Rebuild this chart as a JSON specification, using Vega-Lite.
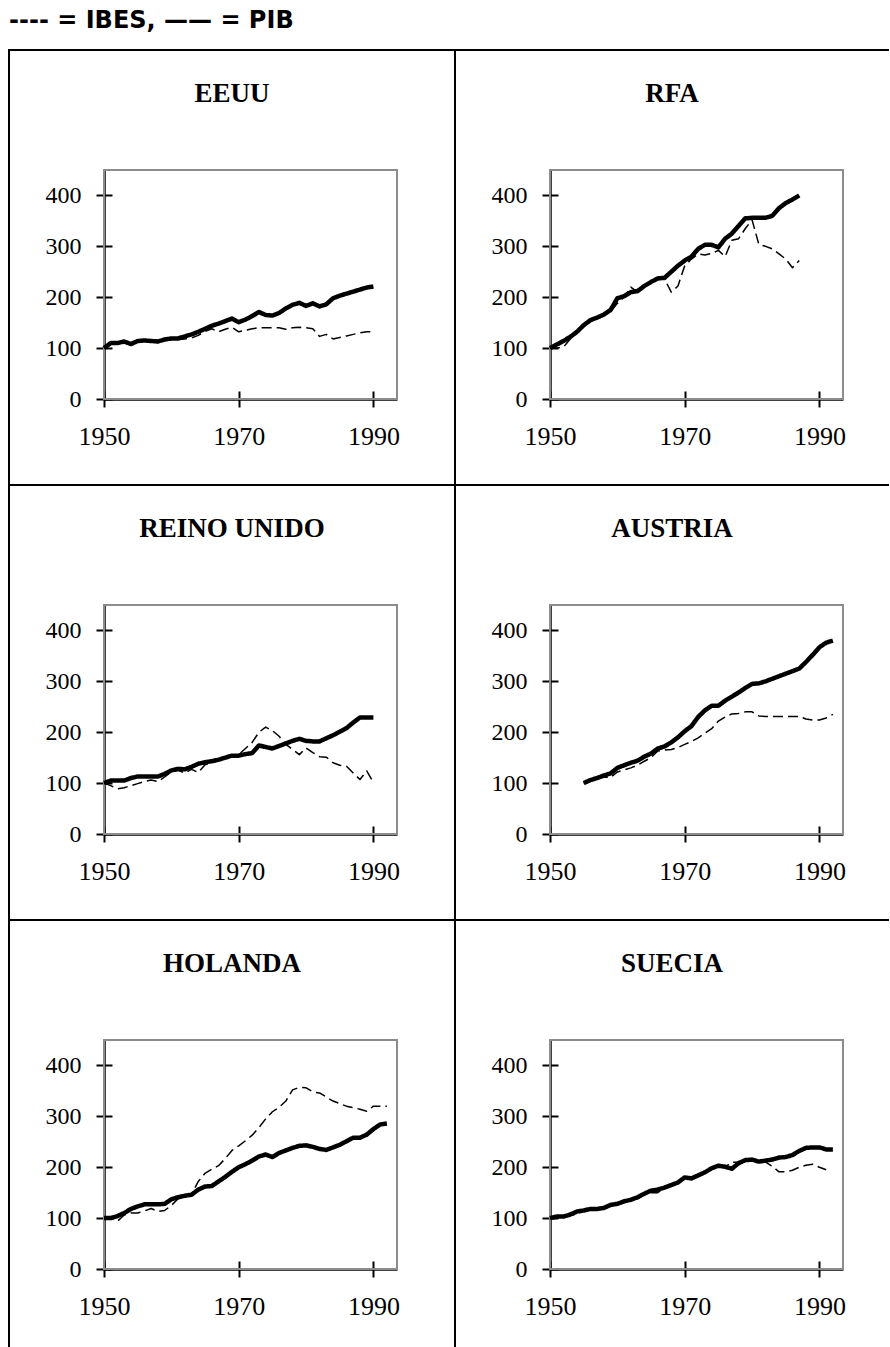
{
  "$schema": "https://vega.github.io/schema/vega-lite/v6.json",
  "padding": {"left": 8, "top": 9, "right": 0, "bottom": 0},
  "background": "white",
  "title": {"text": "---- = IBES, —— = PIB", "anchor": "start", "frame": "group", "font": "DejaVu Sans", "fontSize": 24, "fontWeight": "bold", "color": "black", "offset": -3, "baseline": "alphabetic"},
  "data": {"values": [
    {"pais":"EEUU","anio":1950,"PIB":100,"IBES":100},{"pais":"EEUU","anio":1951,"PIB":110,"IBES":108},{"pais":"EEUU","anio":1952,"PIB":110,"IBES":108},{"pais":"EEUU","anio":1953,"PIB":113,"IBES":111},{"pais":"EEUU","anio":1954,"PIB":108,"IBES":108},{"pais":"EEUU","anio":1955,"PIB":114,"IBES":112},{"pais":"EEUU","anio":1956,"PIB":115,"IBES":113},{"pais":"EEUU","anio":1957,"PIB":114,"IBES":113},{"pais":"EEUU","anio":1958,"PIB":113,"IBES":113},{"pais":"EEUU","anio":1959,"PIB":117,"IBES":115},{"pais":"EEUU","anio":1960,"PIB":119,"IBES":117},{"pais":"EEUU","anio":1961,"PIB":119,"IBES":117},{"pais":"EEUU","anio":1962,"PIB":123,"IBES":118},{"pais":"EEUU","anio":1963,"PIB":127,"IBES":120},{"pais":"EEUU","anio":1964,"PIB":132,"IBES":125},{"pais":"EEUU","anio":1965,"PIB":138,"IBES":133},{"pais":"EEUU","anio":1966,"PIB":144,"IBES":138},{"pais":"EEUU","anio":1967,"PIB":148,"IBES":132},{"pais":"EEUU","anio":1968,"PIB":153,"IBES":137},{"pais":"EEUU","anio":1969,"PIB":158,"IBES":141},{"pais":"EEUU","anio":1970,"PIB":151,"IBES":132},{"pais":"EEUU","anio":1971,"PIB":156,"IBES":135},{"pais":"EEUU","anio":1972,"PIB":163,"IBES":138},{"pais":"EEUU","anio":1973,"PIB":171,"IBES":140},{"pais":"EEUU","anio":1974,"PIB":165,"IBES":140},{"pais":"EEUU","anio":1975,"PIB":164,"IBES":140},{"pais":"EEUU","anio":1976,"PIB":169,"IBES":140},{"pais":"EEUU","anio":1977,"PIB":178,"IBES":137},{"pais":"EEUU","anio":1978,"PIB":185,"IBES":140},{"pais":"EEUU","anio":1979,"PIB":189,"IBES":141},{"pais":"EEUU","anio":1980,"PIB":183,"IBES":140},{"pais":"EEUU","anio":1981,"PIB":188,"IBES":138},{"pais":"EEUU","anio":1982,"PIB":182,"IBES":123},{"pais":"EEUU","anio":1983,"PIB":186,"IBES":127},{"pais":"EEUU","anio":1984,"PIB":198,"IBES":118},{"pais":"EEUU","anio":1985,"PIB":203,"IBES":121},{"pais":"EEUU","anio":1986,"PIB":207,"IBES":124},{"pais":"EEUU","anio":1987,"PIB":211,"IBES":127},{"pais":"EEUU","anio":1988,"PIB":215,"IBES":130},{"pais":"EEUU","anio":1989,"PIB":219,"IBES":132},{"pais":"EEUU","anio":1990,"PIB":221,"IBES":132},
    {"pais":"RFA","anio":1950,"PIB":100,"IBES":100},{"pais":"RFA","anio":1951,"PIB":107,"IBES":100},{"pais":"RFA","anio":1952,"PIB":114,"IBES":102},{"pais":"RFA","anio":1953,"PIB":122,"IBES":118},{"pais":"RFA","anio":1954,"PIB":132,"IBES":130},{"pais":"RFA","anio":1955,"PIB":145,"IBES":142},{"pais":"RFA","anio":1956,"PIB":155,"IBES":152},{"pais":"RFA","anio":1957,"PIB":160,"IBES":158},{"pais":"RFA","anio":1958,"PIB":166,"IBES":165},{"pais":"RFA","anio":1959,"PIB":175,"IBES":172},{"pais":"RFA","anio":1960,"PIB":198,"IBES":188},{"pais":"RFA","anio":1961,"PIB":202,"IBES":200},{"pais":"RFA","anio":1962,"PIB":210,"IBES":220},{"pais":"RFA","anio":1963,"PIB":212,"IBES":210},{"pais":"RFA","anio":1964,"PIB":222,"IBES":222},{"pais":"RFA","anio":1965,"PIB":230,"IBES":228},{"pais":"RFA","anio":1966,"PIB":237,"IBES":235},{"pais":"RFA","anio":1967,"PIB":238,"IBES":236},{"pais":"RFA","anio":1968,"PIB":250,"IBES":210},{"pais":"RFA","anio":1969,"PIB":262,"IBES":222},{"pais":"RFA","anio":1970,"PIB":272,"IBES":262},{"pais":"RFA","anio":1971,"PIB":280,"IBES":275},{"pais":"RFA","anio":1972,"PIB":295,"IBES":285},{"pais":"RFA","anio":1973,"PIB":303,"IBES":283},{"pais":"RFA","anio":1974,"PIB":303,"IBES":286},{"pais":"RFA","anio":1975,"PIB":298,"IBES":292},{"pais":"RFA","anio":1976,"PIB":315,"IBES":280},{"pais":"RFA","anio":1977,"PIB":325,"IBES":312},{"pais":"RFA","anio":1978,"PIB":340,"IBES":315},{"pais":"RFA","anio":1979,"PIB":355,"IBES":335},{"pais":"RFA","anio":1980,"PIB":356,"IBES":352},{"pais":"RFA","anio":1981,"PIB":356,"IBES":304},{"pais":"RFA","anio":1982,"PIB":356,"IBES":300},{"pais":"RFA","anio":1983,"PIB":360,"IBES":295},{"pais":"RFA","anio":1984,"PIB":375,"IBES":285},{"pais":"RFA","anio":1985,"PIB":385,"IBES":275},{"pais":"RFA","anio":1986,"PIB":392,"IBES":258},{"pais":"RFA","anio":1987,"PIB":400,"IBES":272},
    {"pais":"REINO UNIDO","anio":1950,"PIB":100,"IBES":100},{"pais":"REINO UNIDO","anio":1951,"PIB":105,"IBES":95},{"pais":"REINO UNIDO","anio":1952,"PIB":105,"IBES":89},{"pais":"REINO UNIDO","anio":1953,"PIB":105,"IBES":91},{"pais":"REINO UNIDO","anio":1954,"PIB":110,"IBES":95},{"pais":"REINO UNIDO","anio":1955,"PIB":113,"IBES":99},{"pais":"REINO UNIDO","anio":1956,"PIB":113,"IBES":103},{"pais":"REINO UNIDO","anio":1957,"PIB":113,"IBES":106},{"pais":"REINO UNIDO","anio":1958,"PIB":113,"IBES":103},{"pais":"REINO UNIDO","anio":1959,"PIB":118,"IBES":112},{"pais":"REINO UNIDO","anio":1960,"PIB":125,"IBES":122},{"pais":"REINO UNIDO","anio":1961,"PIB":128,"IBES":125},{"pais":"REINO UNIDO","anio":1962,"PIB":127,"IBES":120},{"pais":"REINO UNIDO","anio":1963,"PIB":132,"IBES":127},{"pais":"REINO UNIDO","anio":1964,"PIB":138,"IBES":121},{"pais":"REINO UNIDO","anio":1965,"PIB":141,"IBES":136},{"pais":"REINO UNIDO","anio":1966,"PIB":143,"IBES":140},{"pais":"REINO UNIDO","anio":1967,"PIB":146,"IBES":145},{"pais":"REINO UNIDO","anio":1968,"PIB":150,"IBES":150},{"pais":"REINO UNIDO","anio":1969,"PIB":154,"IBES":155},{"pais":"REINO UNIDO","anio":1970,"PIB":154,"IBES":156},{"pais":"REINO UNIDO","anio":1971,"PIB":157,"IBES":168},{"pais":"REINO UNIDO","anio":1972,"PIB":159,"IBES":180},{"pais":"REINO UNIDO","anio":1973,"PIB":174,"IBES":200},{"pais":"REINO UNIDO","anio":1974,"PIB":171,"IBES":210},{"pais":"REINO UNIDO","anio":1975,"PIB":168,"IBES":203},{"pais":"REINO UNIDO","anio":1976,"PIB":173,"IBES":192},{"pais":"REINO UNIDO","anio":1977,"PIB":178,"IBES":176},{"pais":"REINO UNIDO","anio":1978,"PIB":183,"IBES":166},{"pais":"REINO UNIDO","anio":1979,"PIB":187,"IBES":156},{"pais":"REINO UNIDO","anio":1980,"PIB":183,"IBES":169},{"pais":"REINO UNIDO","anio":1981,"PIB":182,"IBES":160},{"pais":"REINO UNIDO","anio":1982,"PIB":182,"IBES":152},{"pais":"REINO UNIDO","anio":1983,"PIB":188,"IBES":151},{"pais":"REINO UNIDO","anio":1984,"PIB":194,"IBES":140},{"pais":"REINO UNIDO","anio":1985,"PIB":201,"IBES":135},{"pais":"REINO UNIDO","anio":1986,"PIB":208,"IBES":133},{"pais":"REINO UNIDO","anio":1987,"PIB":219,"IBES":120},{"pais":"REINO UNIDO","anio":1988,"PIB":229,"IBES":107},{"pais":"REINO UNIDO","anio":1989,"PIB":229,"IBES":124},{"pais":"REINO UNIDO","anio":1990,"PIB":229,"IBES":101},
    {"pais":"AUSTRIA","anio":1955,"PIB":100,"IBES":100},{"pais":"AUSTRIA","anio":1956,"PIB":106,"IBES":104},{"pais":"AUSTRIA","anio":1957,"PIB":110,"IBES":108},{"pais":"AUSTRIA","anio":1958,"PIB":115,"IBES":112},{"pais":"AUSTRIA","anio":1959,"PIB":119,"IBES":111},{"pais":"AUSTRIA","anio":1960,"PIB":130,"IBES":122},{"pais":"AUSTRIA","anio":1961,"PIB":135,"IBES":126},{"pais":"AUSTRIA","anio":1962,"PIB":140,"IBES":130},{"pais":"AUSTRIA","anio":1963,"PIB":144,"IBES":135},{"pais":"AUSTRIA","anio":1964,"PIB":152,"IBES":143},{"pais":"AUSTRIA","anio":1965,"PIB":158,"IBES":150},{"pais":"AUSTRIA","anio":1966,"PIB":168,"IBES":163},{"pais":"AUSTRIA","anio":1967,"PIB":172,"IBES":165},{"pais":"AUSTRIA","anio":1968,"PIB":180,"IBES":166},{"pais":"AUSTRIA","anio":1969,"PIB":190,"IBES":170},{"pais":"AUSTRIA","anio":1970,"PIB":202,"IBES":176},{"pais":"AUSTRIA","anio":1971,"PIB":212,"IBES":182},{"pais":"AUSTRIA","anio":1972,"PIB":230,"IBES":189},{"pais":"AUSTRIA","anio":1973,"PIB":243,"IBES":198},{"pais":"AUSTRIA","anio":1974,"PIB":252,"IBES":207},{"pais":"AUSTRIA","anio":1975,"PIB":252,"IBES":222},{"pais":"AUSTRIA","anio":1976,"PIB":262,"IBES":230},{"pais":"AUSTRIA","anio":1977,"PIB":270,"IBES":236},{"pais":"AUSTRIA","anio":1978,"PIB":278,"IBES":237},{"pais":"AUSTRIA","anio":1979,"PIB":287,"IBES":240},{"pais":"AUSTRIA","anio":1980,"PIB":295,"IBES":240},{"pais":"AUSTRIA","anio":1981,"PIB":296,"IBES":232},{"pais":"AUSTRIA","anio":1982,"PIB":300,"IBES":231},{"pais":"AUSTRIA","anio":1983,"PIB":305,"IBES":231},{"pais":"AUSTRIA","anio":1984,"PIB":310,"IBES":231},{"pais":"AUSTRIA","anio":1985,"PIB":315,"IBES":231},{"pais":"AUSTRIA","anio":1986,"PIB":320,"IBES":231},{"pais":"AUSTRIA","anio":1987,"PIB":325,"IBES":231},{"pais":"AUSTRIA","anio":1988,"PIB":338,"IBES":226},{"pais":"AUSTRIA","anio":1989,"PIB":352,"IBES":224},{"pais":"AUSTRIA","anio":1990,"PIB":367,"IBES":224},{"pais":"AUSTRIA","anio":1991,"PIB":376,"IBES":228},{"pais":"AUSTRIA","anio":1992,"PIB":380,"IBES":235},
    {"pais":"HOLANDA","anio":1950,"PIB":100,"IBES":100},{"pais":"HOLANDA","anio":1951,"PIB":100,"IBES":100},{"pais":"HOLANDA","anio":1952,"PIB":104,"IBES":94},{"pais":"HOLANDA","anio":1953,"PIB":110,"IBES":106},{"pais":"HOLANDA","anio":1954,"PIB":118,"IBES":110},{"pais":"HOLANDA","anio":1955,"PIB":123,"IBES":110},{"pais":"HOLANDA","anio":1956,"PIB":127,"IBES":114},{"pais":"HOLANDA","anio":1957,"PIB":127,"IBES":119},{"pais":"HOLANDA","anio":1958,"PIB":127,"IBES":113},{"pais":"HOLANDA","anio":1959,"PIB":128,"IBES":115},{"pais":"HOLANDA","anio":1960,"PIB":137,"IBES":125},{"pais":"HOLANDA","anio":1961,"PIB":141,"IBES":138},{"pais":"HOLANDA","anio":1962,"PIB":144,"IBES":143},{"pais":"HOLANDA","anio":1963,"PIB":146,"IBES":147},{"pais":"HOLANDA","anio":1964,"PIB":156,"IBES":172},{"pais":"HOLANDA","anio":1965,"PIB":162,"IBES":188},{"pais":"HOLANDA","anio":1966,"PIB":163,"IBES":196},{"pais":"HOLANDA","anio":1967,"PIB":172,"IBES":203},{"pais":"HOLANDA","anio":1968,"PIB":181,"IBES":217},{"pais":"HOLANDA","anio":1969,"PIB":191,"IBES":233},{"pais":"HOLANDA","anio":1970,"PIB":200,"IBES":242},{"pais":"HOLANDA","anio":1971,"PIB":206,"IBES":252},{"pais":"HOLANDA","anio":1972,"PIB":213,"IBES":263},{"pais":"HOLANDA","anio":1973,"PIB":221,"IBES":278},{"pais":"HOLANDA","anio":1974,"PIB":225,"IBES":295},{"pais":"HOLANDA","anio":1975,"PIB":220,"IBES":309},{"pais":"HOLANDA","anio":1976,"PIB":228,"IBES":318},{"pais":"HOLANDA","anio":1977,"PIB":233,"IBES":330},{"pais":"HOLANDA","anio":1978,"PIB":238,"IBES":352},{"pais":"HOLANDA","anio":1979,"PIB":242,"IBES":357},{"pais":"HOLANDA","anio":1980,"PIB":243,"IBES":356},{"pais":"HOLANDA","anio":1981,"PIB":240,"IBES":348},{"pais":"HOLANDA","anio":1982,"PIB":236,"IBES":346},{"pais":"HOLANDA","anio":1983,"PIB":234,"IBES":338},{"pais":"HOLANDA","anio":1984,"PIB":239,"IBES":330},{"pais":"HOLANDA","anio":1985,"PIB":244,"IBES":325},{"pais":"HOLANDA","anio":1986,"PIB":251,"IBES":320},{"pais":"HOLANDA","anio":1987,"PIB":258,"IBES":317},{"pais":"HOLANDA","anio":1988,"PIB":258,"IBES":314},{"pais":"HOLANDA","anio":1989,"PIB":264,"IBES":310},{"pais":"HOLANDA","anio":1990,"PIB":275,"IBES":320},{"pais":"HOLANDA","anio":1991,"PIB":284,"IBES":320},{"pais":"HOLANDA","anio":1992,"PIB":286,"IBES":320},
    {"pais":"SUECIA","anio":1950,"PIB":100,"IBES":100},{"pais":"SUECIA","anio":1951,"PIB":103,"IBES":101},{"pais":"SUECIA","anio":1952,"PIB":103,"IBES":102},{"pais":"SUECIA","anio":1953,"PIB":107,"IBES":105},{"pais":"SUECIA","anio":1954,"PIB":113,"IBES":108},{"pais":"SUECIA","anio":1955,"PIB":115,"IBES":114},{"pais":"SUECIA","anio":1956,"PIB":118,"IBES":117},{"pais":"SUECIA","anio":1957,"PIB":118,"IBES":118},{"pais":"SUECIA","anio":1958,"PIB":120,"IBES":120},{"pais":"SUECIA","anio":1959,"PIB":126,"IBES":124},{"pais":"SUECIA","anio":1960,"PIB":128,"IBES":127},{"pais":"SUECIA","anio":1961,"PIB":133,"IBES":131},{"pais":"SUECIA","anio":1962,"PIB":136,"IBES":135},{"pais":"SUECIA","anio":1963,"PIB":141,"IBES":138},{"pais":"SUECIA","anio":1964,"PIB":148,"IBES":146},{"pais":"SUECIA","anio":1965,"PIB":154,"IBES":150},{"pais":"SUECIA","anio":1966,"PIB":156,"IBES":150},{"pais":"SUECIA","anio":1967,"PIB":160,"IBES":160},{"pais":"SUECIA","anio":1968,"PIB":165,"IBES":165},{"pais":"SUECIA","anio":1969,"PIB":170,"IBES":170},{"pais":"SUECIA","anio":1970,"PIB":180,"IBES":178},{"pais":"SUECIA","anio":1971,"PIB":178,"IBES":180},{"pais":"SUECIA","anio":1972,"PIB":184,"IBES":184},{"pais":"SUECIA","anio":1973,"PIB":190,"IBES":190},{"pais":"SUECIA","anio":1974,"PIB":198,"IBES":197},{"pais":"SUECIA","anio":1975,"PIB":203,"IBES":202},{"pais":"SUECIA","anio":1976,"PIB":201,"IBES":200},{"pais":"SUECIA","anio":1977,"PIB":197,"IBES":210},{"pais":"SUECIA","anio":1978,"PIB":208,"IBES":210},{"pais":"SUECIA","anio":1979,"PIB":214,"IBES":213},{"pais":"SUECIA","anio":1980,"PIB":215,"IBES":215},{"pais":"SUECIA","anio":1981,"PIB":211,"IBES":212},{"pais":"SUECIA","anio":1982,"PIB":213,"IBES":210},{"pais":"SUECIA","anio":1983,"PIB":215,"IBES":202},{"pais":"SUECIA","anio":1984,"PIB":219,"IBES":191},{"pais":"SUECIA","anio":1985,"PIB":220,"IBES":191},{"pais":"SUECIA","anio":1986,"PIB":224,"IBES":194},{"pais":"SUECIA","anio":1987,"PIB":232,"IBES":200},{"pais":"SUECIA","anio":1988,"PIB":238,"IBES":204},{"pais":"SUECIA","anio":1989,"PIB":239,"IBES":206},{"pais":"SUECIA","anio":1990,"PIB":239,"IBES":200},{"pais":"SUECIA","anio":1991,"PIB":235,"IBES":195},{"pais":"SUECIA","anio":1992,"PIB":235,"IBES":null}
  ]},
  "transform": [{"fold": ["PIB", "IBES"], "as": ["serie", "valor"]}, {"filter": "isValid(datum.valor)"}],
  "columns": 2,
  "spacing": 0,
  "bounds": "flush",
  "concat": [
      {"width": 446, "height": 435, "view": {"stroke": "black", "strokeWidth": 2, "strokeDash": [446, 881, 435]}, "title": {"text": "EEUU"}, "resolve": {"axis": {"x": "independent", "y": "independent"}},
       "layer": [
        {"data": {"values": [{}]}, "mark": {"type": "rect", "fillOpacity": 0, "stroke": "#8c8c8c", "strokeWidth": 2},
         "encoding": {"x": {"datum": 1950, "type": "quantitative", "scale": {"domain": [1950, 1993.5], "range": [95, 388], "nice": false, "zero": false}, "axis": {"orient": "bottom", "offset": -86, "values": [1950, 1970, 1990], "tickSize": -8, "labels": false, "domain": false, "title": null}}, "x2": {"datum": 1993.5},
                      "y": {"datum": 0, "type": "quantitative", "scale": {"domain": [0, 450], "range": [349, 120], "nice": false, "zero": false}, "axis": {"orient": "left", "offset": -95, "values": [0, 100, 200, 300, 400], "tickSize": -8, "labels": false, "domain": false, "title": null}}, "y2": {"datum": 450}}},
        {"transform": [{"filter": {"field": "pais", "equal": "EEUU"}}], "mark": {"type": "line", "color": "black", "strokeJoin": "round"},
         "encoding": {"x": {"field": "anio", "type": "quantitative", "scale": {"domain": [1950, 1993.5], "range": [95, 388], "nice": false, "zero": false}, "axis": {"orient": "bottom", "offset": -86, "values": [1950, 1970, 1990], "format": "d", "tickSize": 8, "title": null}},
                      "y": {"field": "valor", "type": "quantitative", "scale": {"domain": [0, 450], "range": [349, 120], "nice": false, "zero": false}, "axis": {"orient": "left", "offset": -95, "values": [0, 100, 200, 300, 400], "tickSize": 8, "title": null}},
                      "detail": {"field": "serie"},
                      "strokeWidth": {"condition": {"test": "datum.serie === 'PIB'", "value": 4.5}, "value": 1.5},
                      "strokeDash": {"condition": {"test": "datum.serie === 'PIB'", "value": [1, 0]}, "value": [10, 5]}}}
       ]},
      {"width": 434, "height": 435, "view": {"stroke": "black", "strokeWidth": 2, "strokeDash": [434, 869, 435]}, "title": {"text": "RFA"}, "resolve": {"axis": {"x": "independent", "y": "independent"}},
       "layer": [
        {"data": {"values": [{}]}, "mark": {"type": "rect", "fillOpacity": 0, "stroke": "#8c8c8c", "strokeWidth": 2},
         "encoding": {"x": {"datum": 1950, "type": "quantitative", "scale": {"domain": [1950, 1993.5], "range": [95, 388], "nice": false, "zero": false}, "axis": {"orient": "bottom", "offset": -86, "values": [1950, 1970, 1990], "tickSize": -8, "labels": false, "domain": false, "title": null}}, "x2": {"datum": 1993.5},
                      "y": {"datum": 0, "type": "quantitative", "scale": {"domain": [0, 450], "range": [349, 120], "nice": false, "zero": false}, "axis": {"orient": "left", "offset": -95, "values": [0, 100, 200, 300, 400], "tickSize": -8, "labels": false, "domain": false, "title": null}}, "y2": {"datum": 450}}},
        {"transform": [{"filter": {"field": "pais", "equal": "RFA"}}], "mark": {"type": "line", "color": "black", "strokeJoin": "round"},
         "encoding": {"x": {"field": "anio", "type": "quantitative", "scale": {"domain": [1950, 1993.5], "range": [95, 388], "nice": false, "zero": false}, "axis": {"orient": "bottom", "offset": -86, "values": [1950, 1970, 1990], "format": "d", "tickSize": 8, "title": null}},
                      "y": {"field": "valor", "type": "quantitative", "scale": {"domain": [0, 450], "range": [349, 120], "nice": false, "zero": false}, "axis": {"orient": "left", "offset": -95, "values": [0, 100, 200, 300, 400], "tickSize": 8, "title": null}},
                      "detail": {"field": "serie"},
                      "strokeWidth": {"condition": {"test": "datum.serie === 'PIB'", "value": 4.5}, "value": 1.5},
                      "strokeDash": {"condition": {"test": "datum.serie === 'PIB'", "value": [1, 0]}, "value": [10, 5]}}}
       ]},
      {"width": 446, "height": 435, "view": {"stroke": "black", "strokeWidth": 2, "strokeDash": [446, 881, 435]}, "title": {"text": "REINO UNIDO"}, "resolve": {"axis": {"x": "independent", "y": "independent"}},
       "layer": [
        {"data": {"values": [{}]}, "mark": {"type": "rect", "fillOpacity": 0, "stroke": "#8c8c8c", "strokeWidth": 2},
         "encoding": {"x": {"datum": 1950, "type": "quantitative", "scale": {"domain": [1950, 1993.5], "range": [95, 388], "nice": false, "zero": false}, "axis": {"orient": "bottom", "offset": -86, "values": [1950, 1970, 1990], "tickSize": -8, "labels": false, "domain": false, "title": null}}, "x2": {"datum": 1993.5},
                      "y": {"datum": 0, "type": "quantitative", "scale": {"domain": [0, 450], "range": [349, 120], "nice": false, "zero": false}, "axis": {"orient": "left", "offset": -95, "values": [0, 100, 200, 300, 400], "tickSize": -8, "labels": false, "domain": false, "title": null}}, "y2": {"datum": 450}}},
        {"transform": [{"filter": {"field": "pais", "equal": "REINO UNIDO"}}], "mark": {"type": "line", "color": "black", "strokeJoin": "round"},
         "encoding": {"x": {"field": "anio", "type": "quantitative", "scale": {"domain": [1950, 1993.5], "range": [95, 388], "nice": false, "zero": false}, "axis": {"orient": "bottom", "offset": -86, "values": [1950, 1970, 1990], "format": "d", "tickSize": 8, "title": null}},
                      "y": {"field": "valor", "type": "quantitative", "scale": {"domain": [0, 450], "range": [349, 120], "nice": false, "zero": false}, "axis": {"orient": "left", "offset": -95, "values": [0, 100, 200, 300, 400], "tickSize": 8, "title": null}},
                      "detail": {"field": "serie"},
                      "strokeWidth": {"condition": {"test": "datum.serie === 'PIB'", "value": 4.5}, "value": 1.5},
                      "strokeDash": {"condition": {"test": "datum.serie === 'PIB'", "value": [1, 0]}, "value": [10, 5]}}}
       ]},
      {"width": 434, "height": 435, "view": {"stroke": "black", "strokeWidth": 2, "strokeDash": [434, 869, 435]}, "title": {"text": "AUSTRIA"}, "resolve": {"axis": {"x": "independent", "y": "independent"}},
       "layer": [
        {"data": {"values": [{}]}, "mark": {"type": "rect", "fillOpacity": 0, "stroke": "#8c8c8c", "strokeWidth": 2},
         "encoding": {"x": {"datum": 1950, "type": "quantitative", "scale": {"domain": [1950, 1993.5], "range": [95, 388], "nice": false, "zero": false}, "axis": {"orient": "bottom", "offset": -86, "values": [1950, 1970, 1990], "tickSize": -8, "labels": false, "domain": false, "title": null}}, "x2": {"datum": 1993.5},
                      "y": {"datum": 0, "type": "quantitative", "scale": {"domain": [0, 450], "range": [349, 120], "nice": false, "zero": false}, "axis": {"orient": "left", "offset": -95, "values": [0, 100, 200, 300, 400], "tickSize": -8, "labels": false, "domain": false, "title": null}}, "y2": {"datum": 450}}},
        {"transform": [{"filter": {"field": "pais", "equal": "AUSTRIA"}}], "mark": {"type": "line", "color": "black", "strokeJoin": "round"},
         "encoding": {"x": {"field": "anio", "type": "quantitative", "scale": {"domain": [1950, 1993.5], "range": [95, 388], "nice": false, "zero": false}, "axis": {"orient": "bottom", "offset": -86, "values": [1950, 1970, 1990], "format": "d", "tickSize": 8, "title": null}},
                      "y": {"field": "valor", "type": "quantitative", "scale": {"domain": [0, 450], "range": [349, 120], "nice": false, "zero": false}, "axis": {"orient": "left", "offset": -95, "values": [0, 100, 200, 300, 400], "tickSize": 8, "title": null}},
                      "detail": {"field": "serie"},
                      "strokeWidth": {"condition": {"test": "datum.serie === 'PIB'", "value": 4.5}, "value": 1.5},
                      "strokeDash": {"condition": {"test": "datum.serie === 'PIB'", "value": [1, 0]}, "value": [10, 5]}}}
       ]},
      {"width": 446, "height": 428, "view": {"stroke": "black", "strokeWidth": 2, "strokeDash": [446, 874, 428]}, "title": {"text": "HOLANDA"}, "resolve": {"axis": {"x": "independent", "y": "independent"}},
       "layer": [
        {"data": {"values": [{}]}, "mark": {"type": "rect", "fillOpacity": 0, "stroke": "#8c8c8c", "strokeWidth": 2},
         "encoding": {"x": {"datum": 1950, "type": "quantitative", "scale": {"domain": [1950, 1993.5], "range": [95, 388], "nice": false, "zero": false}, "axis": {"orient": "bottom", "offset": -79, "values": [1950, 1970, 1990], "tickSize": -8, "labels": false, "domain": false, "title": null}}, "x2": {"datum": 1993.5},
                      "y": {"datum": 0, "type": "quantitative", "scale": {"domain": [0, 450], "range": [349, 120], "nice": false, "zero": false}, "axis": {"orient": "left", "offset": -95, "values": [0, 100, 200, 300, 400], "tickSize": -8, "labels": false, "domain": false, "title": null}}, "y2": {"datum": 450}}},
        {"transform": [{"filter": {"field": "pais", "equal": "HOLANDA"}}], "mark": {"type": "line", "color": "black", "strokeJoin": "round"},
         "encoding": {"x": {"field": "anio", "type": "quantitative", "scale": {"domain": [1950, 1993.5], "range": [95, 388], "nice": false, "zero": false}, "axis": {"orient": "bottom", "offset": -79, "values": [1950, 1970, 1990], "format": "d", "tickSize": 8, "title": null}},
                      "y": {"field": "valor", "type": "quantitative", "scale": {"domain": [0, 450], "range": [349, 120], "nice": false, "zero": false}, "axis": {"orient": "left", "offset": -95, "values": [0, 100, 200, 300, 400], "tickSize": 8, "title": null}},
                      "detail": {"field": "serie"},
                      "strokeWidth": {"condition": {"test": "datum.serie === 'PIB'", "value": 4.5}, "value": 1.5},
                      "strokeDash": {"condition": {"test": "datum.serie === 'PIB'", "value": [1, 0]}, "value": [10, 5]}}}
       ]},
      {"width": 434, "height": 428, "view": {"stroke": "black", "strokeWidth": 2, "strokeDash": [434, 862, 428]}, "title": {"text": "SUECIA"}, "resolve": {"axis": {"x": "independent", "y": "independent"}},
       "layer": [
        {"data": {"values": [{}]}, "mark": {"type": "rect", "fillOpacity": 0, "stroke": "#8c8c8c", "strokeWidth": 2},
         "encoding": {"x": {"datum": 1950, "type": "quantitative", "scale": {"domain": [1950, 1993.5], "range": [95, 388], "nice": false, "zero": false}, "axis": {"orient": "bottom", "offset": -79, "values": [1950, 1970, 1990], "tickSize": -8, "labels": false, "domain": false, "title": null}}, "x2": {"datum": 1993.5},
                      "y": {"datum": 0, "type": "quantitative", "scale": {"domain": [0, 450], "range": [349, 120], "nice": false, "zero": false}, "axis": {"orient": "left", "offset": -95, "values": [0, 100, 200, 300, 400], "tickSize": -8, "labels": false, "domain": false, "title": null}}, "y2": {"datum": 450}}},
        {"transform": [{"filter": {"field": "pais", "equal": "SUECIA"}}], "mark": {"type": "line", "color": "black", "strokeJoin": "round"},
         "encoding": {"x": {"field": "anio", "type": "quantitative", "scale": {"domain": [1950, 1993.5], "range": [95, 388], "nice": false, "zero": false}, "axis": {"orient": "bottom", "offset": -79, "values": [1950, 1970, 1990], "format": "d", "tickSize": 8, "title": null}},
                      "y": {"field": "valor", "type": "quantitative", "scale": {"domain": [0, 450], "range": [349, 120], "nice": false, "zero": false}, "axis": {"orient": "left", "offset": -95, "values": [0, 100, 200, 300, 400], "tickSize": 8, "title": null}},
                      "detail": {"field": "serie"},
                      "strokeWidth": {"condition": {"test": "datum.serie === 'PIB'", "value": 4.5}, "value": 1.5},
                      "strokeDash": {"condition": {"test": "datum.serie === 'PIB'", "value": [1, 0]}, "value": [10, 5]}}}
       ]}
  ],
  "config": {
    "view": {"stroke": null},
    "font": "Liberation Serif",
    "title": {"font": "Liberation Serif", "fontSize": 27, "fontWeight": "bold", "color": "black", "anchor": "middle", "frame": "group", "offset": -58, "baseline": "alphabetic"},
    "axis": {"labelFont": "Liberation Serif", "labelColor": "black", "tickColor": "black", "tickWidth": 2, "domainColor": "black", "domainWidth": 2.5, "grid": false, "labelFlush": false, "labelOverlap": false, "zindex": 1},
    "axisX": {"labelFontSize": 26, "labelPadding": 16},
    "axisY": {"labelFontSize": 24, "labelPadding": 15}
  }
}
